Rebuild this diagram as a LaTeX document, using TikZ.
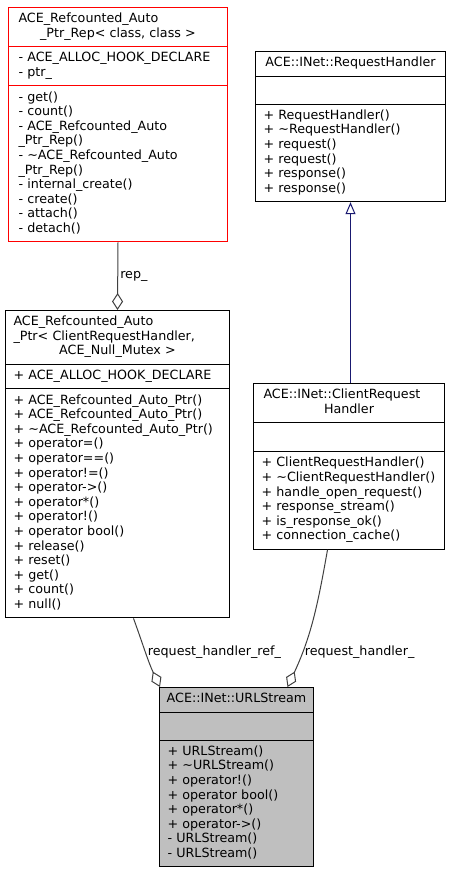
\documentclass[tikz,border=0pt]{standalone}
\usepackage{fontspec}
\setmainfont{DejaVu Sans}
\usetikzlibrary{shapes.multipart,arrows.meta}
\definecolor{edgegrey}{HTML}{404040}
\definecolor{inhblue}{HTML}{191970}
\definecolor{urlgrey}{HTML}{BFBFBF}
\newcommand{\hdline}[1]{\makebox[\hsize]{#1}}
\newcommand{\tl}{\textasciitilde}
\hyphenpenalty=10000
\exhyphenpenalty=10000
\tikzset{classbox/.style={draw=black, line width=1pt, rectangle split, rectangle split parts=3,
    anchor=north west, inner xsep=8pt, inner ysep=4.5pt, align=left,
    font=\fontsize{12.7}{14.6}\selectfont},
  memb/.style={draw=edgegrey, line width=1pt},
  aggr/.style={-{Diamond[open,length=17pt,width=11pt]}},
  lbl/.style={font=\fontsize{12.7}{14.6}\selectfont, inner sep=2pt, text=black}}

\begin{document}
\begin{tikzpicture}[x=1pt,y=-1pt]
   \useasboundingbox (0,0) rectangle (453,872);
   % classes
   \node[classbox, draw=red, text width=203pt] (rep) at (8,7)
     {\strut\hspace{2pt}ACE\_Refcounted\_Auto\\\hdline{\_Ptr\_Rep< class, class >\strut}
      \nodepart{two}\strut\hspace{2pt}- ACE\_ALLOC\_HOOK\_DECLARE\\\hspace*{2pt}- ptr\_\strut
      \nodepart{three}\strut\hspace{2pt}- get()\\\hspace*{2pt}- count()\\\hspace*{2pt}- ACE\_Refcounted\_Auto\\\hspace*{2pt}\_Ptr\_Rep()\\
      \hspace*{2pt}- \tl ACE\_Refcounted\_Auto\\\hspace*{2pt}\_Ptr\_Rep()\\\hspace*{2pt}- internal\_create()\\\hspace*{2pt}- create()\\
      \hspace*{2pt}- attach()\\\hspace*{2pt}- detach()\strut};
   \node[classbox, text width=208pt] (auto) at (5,310)
     {\strut ACE\_Refcounted\_Auto\\\_Ptr< ClientRequestHandler,\\\hdline{ACE\_Null\_Mutex >\strut}
      \nodepart{two}\strut + ACE\_ALLOC\_HOOK\_DECLARE\strut
      \nodepart{three}\strut + ACE\_Refcounted\_Auto\_Ptr()\\+ ACE\_Refcounted\_Auto\_Ptr()\\
      + \tl ACE\_Refcounted\_Auto\_Ptr()\\+ operator=()\\+ operator==()\\+ operator!=()\\
      + operator->()\\+ operator*()\\+ operator!()\\+ operator bool()\\+ release()\\
      + reset()\\+ get()\\+ count()\\+ null()\strut};
   \node[classbox, text width=174pt] (rh) at (255,51)
     {\hdline{\strut ACE::INet::RequestHandler}
      \nodepart{two}\rule{0pt}{18pt}
      \nodepart{three}\strut + RequestHandler()\\+ \tl RequestHandler()\\+ request()\\
      + request()\\+ response()\\+ response()\strut};
   \node[classbox, text width=175pt] (crh) at (253,383)
     {\strut\hspace{2pt}ACE::INet::ClientRequest\\\hdline{Handler\strut}
      \nodepart{two}\rule{0pt}{19pt}
      \nodepart{three}\strut + ClientRequestHandler()\\+ \tl ClientRequestHandler()\\
      + handle\_open\_request()\\+ response\_stream()\\+ is\_response\_ok()\\
      + connection\_cache()\strut};
   \node[classbox, fill=urlgrey, text width=138pt] (url) at (159,687)
     {\hdline{\strut ACE::INet::URLStream}
      \nodepart{two}\rule{0pt}{18pt}
      \nodepart{three}\strut + URLStream()\\+ \tl URLStream()\\+ operator!()\\
      + operator bool()\\+ operator*()\\+ operator->()\\- URLStream()\\- URLStream()\strut};
   % relations
   \coordinate (refstart) at ([xshift=16pt]auto.south);
   \coordinate (refend) at ([xshift=1pt]url.north west);
   \coordinate (hdlstart) at ([xshift=-21.5pt]crh.south);
   \coordinate (hdlend) at ([xshift=51pt]url.north);
   \draw[memb, aggr] (rep.south) -- node[lbl, right] {rep\_} (auto.north);
   \draw[memb, aggr] (refstart) to[out=-70,in=115]
     node[lbl, right, pos=0.48] {request\_handler\_ref\_} (refend);
   \draw[memb, aggr] (hdlstart) to[out=-100,in=65]
     node[lbl, right, pos=0.75] {request\_handler\_} (hdlend);
   \draw[inhblue, line width=1pt, -{Triangle[open,length=12pt,width=10pt]}]
     (rh.south |- crh.north) -- (rh.south);
\end{tikzpicture}
\end{document}
